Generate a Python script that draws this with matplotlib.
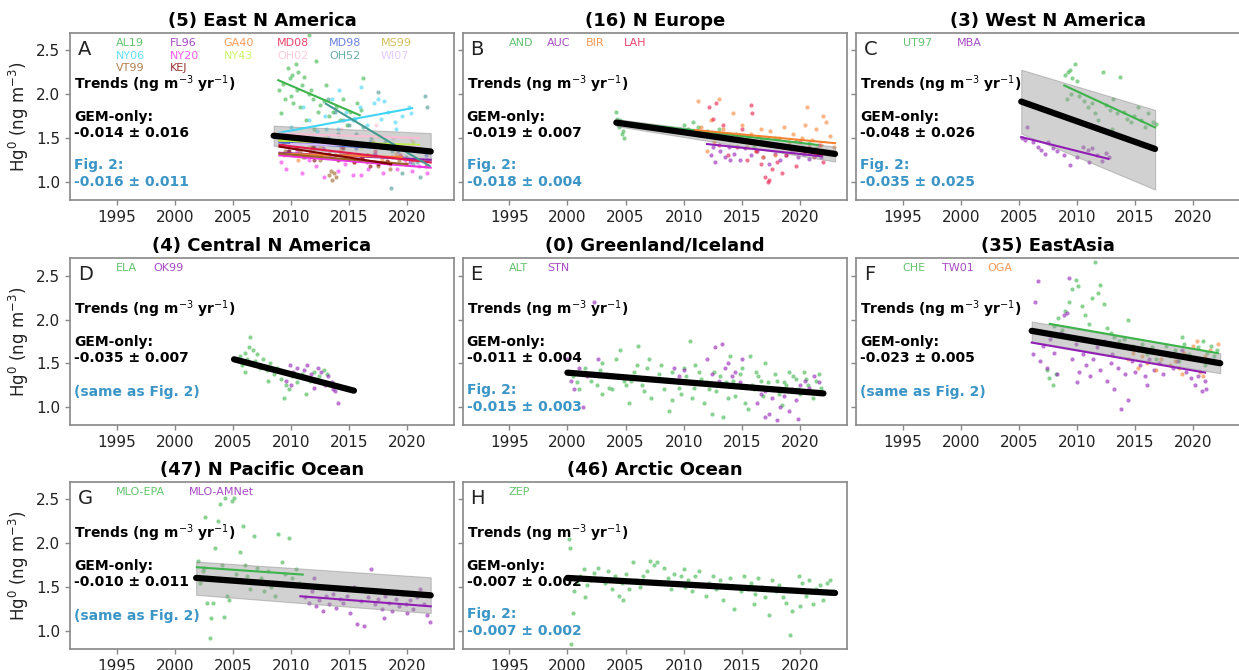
import matplotlib
matplotlib.use('Agg')
import matplotlib.pyplot as plt

# ---------------- colours ----------------
GREEN = '#3cb44b'; PURPLE = '#911eb4'; ORANGE = '#f58231'; RED = '#e6194b'
BLUE = '#4363d8'; GOLD = '#c8b034'; CYAN = '#42d4f4'; MAGENTA = '#f032e6'
LIME = '#bfef45'; PINK = '#fabed4'; TEAL = '#469990'; LAVENDER = '#dcbeff'
BROWN = '#9a6324'; MAROON = '#800000'
FIGBLUE = '#3b95c6'

# ---------------- (A) East N America ----------------
AL19_yr = [2009.0,2009.1,2009.3,2009.5,2009.7,2009.9,2010.1,2010.2,2010.4,2010.5,2010.6,2010.8,2010.9,2011.1,2011.3,2011.5,2011.7,2011.9,2012.1,2012.3,2012.5,2012.8,2013.0,2013.3,2013.6,2013.9,2014.2,2014.5,2014.8,2015.1,2015.4,2015.7,2016.0,2016.2,2012.0,2010.0,2011.5]
AL19_hg = [2.05,1.78,2.12,1.95,2.30,2.18,2.22,1.90,2.35,2.05,2.25,1.85,2.10,2.20,1.70,2.00,2.05,1.95,2.38,1.80,1.88,1.92,2.10,1.75,1.80,1.85,1.70,1.95,1.65,1.80,1.72,1.90,1.82,2.18,1.60,1.98,2.68]
NY06_yr = [2009.2,2010.0,2010.8,2011.5,2012.2,2012.9,2013.5,2014.1,2014.7,2015.3,2015.9,2016.5,2017.1,2017.7,2018.3,2018.9,2019.5,2020.1,2014.0,2016.0,2017.5,2019.0,2011.0,2013.0,2015.5,2018.0,2020.3]
NY06_hg = [1.55,1.62,1.50,1.70,1.58,1.75,1.95,2.05,1.80,1.70,1.85,1.65,1.90,1.72,1.80,1.68,1.75,1.85,1.60,2.08,1.95,1.60,1.85,1.60,1.72,1.92,1.78]
OH52_yr = [2013.2,2013.8,2014.5,2015.0,2015.6,2016.2,2016.9,2017.5,2018.1,2018.7,2019.3,2019.9,2020.5,2021.1,2021.7,2017.0,2019.5,2021.5,2014.0,2020.8,2018.6]
OH52_hg = [1.95,1.80,1.70,1.65,1.55,1.62,1.50,2.03,1.45,1.35,1.40,1.28,1.20,1.05,1.85,1.30,1.10,1.98,1.55,1.22,0.93]
VT99_yr = [2009.5,2010.3,2011.0,2011.8,2012.5,2013.3,2013.5,2013.7,2013.9,2013.4,2014.5,2015.5,2016.5,2017.5,2018.5,2019.3,2010.8,2012.0]
VT99_hg = [1.35,1.30,1.28,1.40,1.25,1.08,1.02,1.10,1.05,1.12,1.30,1.25,1.22,1.18,1.15,1.25,1.35,1.38]
KEJ_yr = [2009.2,2009.8,2010.5,2011.2,2011.9,2012.6,2013.3,2014.0,2014.7,2015.4,2016.1,2016.8,2017.5,2018.2,2010.0,2012.0,2014.5,2016.5]
KEJ_hg = [1.42,1.35,1.38,1.30,1.40,1.28,1.32,1.25,1.30,1.22,1.28,1.18,1.20,1.24,1.45,1.25,1.38,1.30]
NY20_yr = [2009.1,2009.6,2010.2,2010.9,2011.5,2012.1,2012.8,2013.4,2014.0,2014.6,2015.3,2015.9,2016.6,2017.2,2017.9,2018.5,2019.1,2019.8,2020.4,2021.0,2021.7,2010.5,2013.0,2016.0,2019.5]
NY20_hg = [1.22,1.15,1.30,1.10,1.25,1.18,1.05,1.28,1.12,1.20,1.08,1.25,1.15,1.30,1.10,1.20,1.15,1.25,1.12,1.18,1.10,1.35,1.32,1.08,1.28]
MD08_yr = [2009.3,2010.4,2011.6,2012.7,2013.8,2015.0,2016.1,2017.2,2018.3,2019.4,2020.5,2021.6,2014.3,2019.9]
MD08_hg = [1.42,1.38,1.35,1.45,1.30,1.32,1.28,1.35,1.22,1.30,1.25,1.18,1.40,1.20]
MD98_yr = [2009.6,2010.8,2012.0,2013.2,2014.4,2015.6,2016.8,2018.0,2019.2,2020.4,2021.6]
MD98_hg = [1.48,1.45,1.40,1.50,1.42,1.38,1.45,1.40,1.35,1.38,1.30]
GA40_yr = [2009.4,2010.6,2011.8,2013.0,2014.2,2015.4,2016.6,2017.8,2019.0]
GA40_hg = [1.30,1.25,1.38,1.28,1.35,1.22,1.30,1.26,1.32]
MS99_yr = [2009.5,2011.0,2012.5,2014.0,2015.5,2017.0,2018.5,2020.0]
MS99_hg = [1.45,1.50,1.40,1.48,1.42,1.45,1.40,1.38]
NY43_yr = [2010.0,2011.5,2013.0,2014.5,2016.0,2017.5,2019.0,2020.5]
NY43_hg = [1.48,1.42,1.50,1.45,1.40,1.52,1.38,1.45]
OH02_yr = [2009.8,2011.3,2012.8,2014.3,2015.8,2017.3,2018.8,2020.3]
OH02_hg = [1.55,1.45,1.50,1.60,1.42,1.65,1.50,1.48]
FL96_yr = [2009.7,2011.2,2012.7,2014.2,2015.7,2017.2,2018.7,2020.2,2021.7]
FL96_hg = [1.35,1.28,1.38,1.30,1.25,1.32,1.28,1.22,1.25]
WI07_yr = [2010.2,2012.2,2014.2,2016.2,2018.2,2020.2]
WI07_hg = [1.45,1.40,1.48,1.42,1.38,1.40]

# station trend lines: (start year, end year, start value, end value)
AL19_tr = (2008.9, 2015.9, 2.16, 1.76)
NY06_tr = (2009.0, 2020.4, 1.56, 1.84)
OH52_tr = (2013.0, 2021.9, 1.89, 1.18)
KEJ_tr = (2009.0, 2018.6, 1.40, 1.20)
NY20_tr = (2009.0, 2022.0, 1.30, 1.16)
MD08_tr = (2009.0, 2022.0, 1.42, 1.22)
MD98_tr = (2009.0, 2022.0, 1.45, 1.35)
GA40_tr = (2009.0, 2019.5, 1.32, 1.28)
MS99_tr = (2009.0, 2021.0, 1.47, 1.40)
NY43_tr = (2009.0, 2021.0, 1.47, 1.42)
OH02_tr = (2009.0, 2021.0, 1.55, 1.50)
FL96_tr = (2009.0, 2022.0, 1.33, 1.25)
WI07_tr = (2010.0, 2021.0, 1.43, 1.40)
VT99_tr = (2009.0, 2020.0, 1.32, 1.20)

# ---------------- (B) N Europe ----------------
AND_yr = [2004.2,2004.4,2004.5,2004.7,2004.9,2005.0,2004.3,2004.8,2010.0,2010.4,2010.8,2011.2,2011.6,2012.0,2012.5,2013.0,2013.5,2014.0,2014.5,2015.0,2015.5,2016.0,2016.6,2017.2,2017.8,2018.4,2019.0,2019.6,2020.2,2020.8,2021.4]
AND_hg = [1.80,1.62,1.70,1.55,1.50,1.66,1.72,1.58,1.65,1.60,1.68,1.62,1.55,1.58,1.52,1.60,1.50,1.48,1.55,1.46,1.52,1.40,1.48,1.44,1.50,1.42,1.38,1.46,1.40,1.44,1.38]
BIR_yr = [2011.2,2011.5,2011.9,2012.3,2012.6,2013.0,2013.4,2013.8,2014.2,2014.6,2015.0,2015.4,2015.8,2016.2,2016.6,2017.0,2017.4,2017.8,2018.2,2018.6,2019.0,2019.4,2019.8,2020.2,2020.6,2021.0,2021.4,2021.8,2022.2,2022.6,2022.9,2012.0,2020.4,2022.0,2016.8]
BIR_hg = [1.92,1.62,1.55,1.70,1.45,1.95,1.60,1.50,1.78,1.52,1.65,1.40,1.55,1.35,1.60,1.45,1.58,1.30,1.50,1.62,1.45,1.55,1.38,1.50,1.85,1.48,1.60,1.42,1.68,1.52,1.40,1.35,1.65,1.75,1.28]
LAH_yr = [2012.2,2012.5,2012.8,2013.1,2013.4,2013.8,2014.2,2014.6,2015.0,2015.4,2015.8,2016.2,2016.6,2017.0,2017.3,2017.6,2018.0,2018.4,2018.8,2019.2,2019.6,2020.0,2020.4,2020.8,2021.2,2021.6,2022.0,2015.9,2013.0,2017.2]
LAH_hg = [1.85,1.72,1.90,1.55,1.65,1.30,1.48,1.40,1.60,1.25,1.88,1.35,1.20,1.05,1.02,1.15,1.22,1.10,1.30,1.40,1.18,1.45,1.35,1.40,1.28,1.42,1.22,1.78,1.42,1.00]
AUC_yr = [2012.3,2012.7,2013.1,2013.5,2013.9,2014.3,2014.8,2015.3,2015.8,2016.3,2016.8,2017.3,2017.8,2018.3,2018.8,2019.3,2019.8,2020.3,2020.8,2021.3,2021.8,2012.5,2014.0]
AUC_hg = [1.30,1.22,1.35,1.28,1.40,1.32,1.25,1.38,1.30,1.35,1.28,1.20,1.32,1.25,1.30,1.35,1.28,1.32,1.26,1.30,1.28,1.40,1.25]
AND_tr = (2004.2, 2021.5, 1.69, 1.42)
AUC_tr = (2012.0, 2021.85, 1.43, 1.29)
BIR_tr = (2011.0, 2023.0, 1.59, 1.44)
LAH_tr = (2012.0, 2021.9, 1.52, 1.31)

# ---------------- (C) West N America ----------------
UT97_yr = [2009.0,2009.2,2009.4,2009.6,2009.8,2010.0,2009.1,2009.5,2010.2,2010.6,2010.9,2011.3,2011.5,2011.8,2012.2,2012.5,2012.8,2013.1,2013.4,2013.7,2014.0,2014.3,2014.6,2014.9,2015.2,2015.5,2015.8,2016.1,2016.5,2016.8,2011.0,2013.0]
UT97_hg = [2.22,2.25,2.28,2.18,2.35,2.15,1.95,2.00,1.98,1.92,1.85,1.90,1.78,1.70,2.25,1.88,1.82,1.95,1.78,2.20,1.80,1.72,1.68,1.75,1.85,1.70,1.62,1.78,1.68,1.66,1.65,1.60]
MBA_yr = [2005.3,2005.5,2005.7,2006.2,2006.6,2006.9,2007.2,2007.5,2007.9,2008.3,2008.9,2009.4,2010.0,2010.5,2010.9,2011.3,2011.7,2012.1,2012.5,2011.0,2012.7]
MBA_hg = [1.50,1.48,1.62,1.45,1.40,1.36,1.32,1.45,1.38,1.35,1.30,1.19,1.28,1.40,1.36,1.38,1.30,1.24,1.33,1.22,1.28]
UT97_tr = (2008.9, 2016.7, 2.10, 1.62)
MBA_tr = (2005.2, 2012.7, 1.51, 1.26)

# ---------------- (D) Central N America ----------------
ELA_yr = [2005.6,2005.8,2006.0,2006.2,2006.4,2006.5,2006.7,2006.9,2007.1,2007.3,2007.6,2007.9,2008.2,2008.5,2008.8,2009.1,2009.4,2009.6,2009.8,2010.1,2010.5,2010.9,2011.3,2011.6,2012.0,2012.4,2012.8,2013.1,2006.0,2008.0]
ELA_hg = [1.58,1.48,1.62,1.55,1.68,1.80,1.65,1.52,1.60,1.45,1.55,1.42,1.50,1.38,1.45,1.32,1.10,1.25,1.20,1.35,1.28,1.38,1.15,1.30,1.40,1.35,1.42,1.38,1.40,1.30]
OK99_yr = [2009.6,2009.9,2010.2,2010.5,2010.8,2011.1,2011.4,2011.7,2012.0,2012.3,2012.6,2012.9,2013.2,2013.5,2013.8,2014.0,2013.6,2010.0,2012.0]
OK99_hg = [1.30,1.48,1.40,1.45,1.35,1.42,1.48,1.38,1.30,1.45,1.40,1.25,1.35,1.28,1.18,1.05,1.20,1.25,1.22]

# ---------------- (E) Greenland/Iceland ----------------
ALT_yr = [2000.5,2001.0,2001.5,2002.0,2002.5,2003.0,2003.4,2003.8,2004.2,2004.5,
          2004.9,2005.3,2005.7,2006.1,2006.4,2006.8,2007.2,2007.6,2008.0,2008.3,
          2008.7,2009.0,2009.4,2009.8,2010.2,2010.5,2010.9,2011.3,2011.7,2012.0,
          2012.4,2012.8,2013.1,2013.4,2013.8,2014.2,2014.6,2015.0,2015.3,2015.7,
          2016.0,2016.4,2016.8,2017.2,2017.6,2018.0,2018.4,2018.8,2019.2,2019.6,
          2020.0,2020.3,2020.7,2021.1,2021.4,2021.8,2003.0,2007.0,2011.0,2014.0,
          2017.0,2019.0,2005.0,2009.0,2015.5,
          2000.8,2001.8,2002.8,2003.6,2004.0,2005.5,2006.0,2006.6,2007.9,2008.5,
          2009.6,2010.0,2010.7,2011.5,2012.2,2012.6,2013.6,2014.4,2014.8,2015.9,
          2016.2,2016.6,2017.4,2017.8,2018.2,2018.6,2019.4,2019.8,2020.5,2021.6]
ALT_hg = [1.35,1.20,1.45,1.30,1.25,1.50,1.38,1.20,1.55,1.65,
          1.30,1.05,1.40,1.70,1.25,1.45,1.10,1.32,1.48,1.20,
          0.95,1.40,1.28,1.15,1.35,1.75,1.22,1.40,1.05,1.28,
          0.92,1.18,1.35,0.88,1.10,1.30,1.25,1.45,1.05,1.58,
          1.20,1.35,1.12,1.28,1.20,1.30,1.02,1.25,1.18,1.32,
          1.15,1.40,1.25,1.10,1.30,1.22,1.15,1.55,1.48,1.58,
          1.50,1.40,1.25,1.08,0.98,
          1.28,1.38,1.42,1.22,1.35,1.30,1.48,1.18,1.38,1.30,
          1.22,1.45,1.10,1.32,1.20,1.40,1.28,1.12,1.38,1.25,
          1.40,1.30,1.22,1.38,1.15,1.28,1.35,1.20,1.32,1.38]
STN_yr = [2000.0,2000.3,2000.6,2001.0,2001.3,2001.7,2002.3,2002.6,2009.2,2009.6,
          2010.0,2012.0,2012.4,2012.7,2013.0,2013.3,2013.5,2013.8,2014.1,2014.4,
          2014.8,2015.0,2016.0,2016.3,2016.6,2017.0,2017.3,2017.6,2018.0,2018.3,
          2018.6,2019.0,2019.3,2019.6,2020.0,2020.4,2020.8,2021.2,2021.6,2017.0,2019.8]
STN_hg = [1.55,1.30,1.20,1.45,1.00,1.35,2.20,1.55,1.45,1.35,
          1.42,1.55,1.38,1.68,1.30,1.72,1.45,1.50,1.35,1.40,
          1.28,1.55,1.22,1.05,1.15,0.88,0.92,1.10,0.85,1.00,
          1.12,0.95,1.20,1.08,1.25,1.30,1.22,1.35,1.28,1.18,0.86]

# ---------------- (F) East Asia ----------------
CHE_yr = [2007.4,2007.6,2007.9,2008.2,2008.0,2008.4,2008.7,2009.0,2009.3,2009.6,
          2009.9,2010.1,2010.4,2010.7,2011.0,2011.3,2011.5,2011.8,2012.0,2012.3,
          2012.6,2012.9,2013.2,2013.6,2014.0,2014.4,2014.8,2015.2,2015.6,2016.0,
          2016.4,2016.8,2017.2,2017.6,2018.0,2018.4,2018.8,2019.2,2019.6,2020.0,
          2020.4,2020.8,2021.2,2021.5,2021.8,2022.0,2021.0,2019.0]
CHE_hg = [1.42,1.33,1.25,1.38,1.92,2.02,1.88,2.10,2.20,2.35,
          2.45,2.38,2.15,2.05,1.95,2.25,2.66,2.30,2.40,2.18,
          1.90,1.85,1.80,1.75,1.78,2.00,1.70,1.65,1.72,1.60,
          1.68,1.55,1.62,1.70,1.58,1.65,1.52,1.72,1.60,1.55,
          1.68,1.75,1.62,1.70,1.58,1.65,1.48,1.80]
TW01_yr = [2006.2,2006.4,2006.6,2006.8,2007.1,2007.4,2007.7,2008.0,2008.3,2008.6,
           2008.9,2009.1,2009.3,2009.6,2009.9,2010.2,2010.5,2010.8,2011.1,2011.4,
           2011.7,2012.0,2012.3,2012.6,2012.9,2013.2,2013.5,2013.8,2014.1,2014.4,
           2014.7,2015.0,2015.4,2015.8,2016.2,2016.6,2017.0,2017.4,2017.8,2018.2,
           2018.6,2019.0,2019.4,2019.8,2020.1,2020.4,2020.7,2021.0,2021.1,2013.0,
           2016.0,2010.0]
TW01_hg = [1.60,2.20,2.44,1.52,1.70,1.45,1.78,1.62,1.38,1.85,
           2.05,2.08,2.47,1.55,1.72,1.40,1.60,1.48,1.35,1.55,
           1.68,1.42,1.75,1.30,1.50,1.20,1.45,0.98,1.38,1.08,
           1.52,1.40,1.48,1.35,1.55,1.42,1.50,1.38,1.60,1.45,
           1.52,1.65,1.40,1.33,1.25,1.35,1.18,1.30,1.20,1.60,
           1.25,1.28]
OGA_yr = [2014.4,2014.8,2015.2,2015.6,2016.0,2016.4,2016.8,2017.2,2017.6,2018.0,
          2018.4,2018.8,2019.2,2019.6,2020.0,2020.3,2020.6,2021.0,2021.4,2021.8,
          2022.1,2020.8,2019.0]
OGA_hg = [1.55,1.62,1.45,1.58,1.50,1.65,1.42,1.55,1.60,1.48,
          1.52,1.45,1.62,1.55,1.70,1.75,1.40,1.58,1.65,1.50,
          1.72,1.35,1.38]
CHE_tr = (2007.65, 2022.1, 1.95, 1.615)
TW01_tr = (2006.1, 2021.0, 1.736, 1.393)

# ---------------- (G) N Pacific Ocean ----------------
MLOEPA_yr = [2002.0,2002.2,2002.4,2002.6,2002.8,2003.0,2003.1,2003.3,2003.5,2003.7,
             2003.9,2004.1,2004.3,2004.5,2004.7,2004.9,2005.1,2005.3,2005.6,2005.9,
             2006.2,2006.5,2006.8,2007.1,2007.4,2007.7,2008.0,2008.3,2008.6,2008.9,
             2009.2,2009.5,2009.8,2010.1,2010.4,2010.7,2002.5,2004.2,2003.3,2006.0]
MLOEPA_hg = [1.80,1.55,1.68,2.30,1.32,0.92,1.15,1.32,1.95,2.25,
             2.45,1.75,2.52,1.40,1.35,2.48,2.52,1.65,1.90,2.20,
             1.62,1.48,2.08,1.72,1.60,1.45,1.68,1.50,1.40,2.10,
             1.78,1.65,2.06,1.60,1.70,1.55,1.72,1.16,1.60,1.75]
MLOAMN_yr = [2011.2,2011.5,2011.8,2012.1,2012.4,2012.7,2013.0,2013.3,2013.6,2013.9,
             2014.2,2014.5,2014.8,2015.1,2015.4,2015.7,2016.0,2016.3,2016.6,2016.9,
             2017.2,2017.5,2017.8,2018.1,2018.4,2018.7,2019.0,2019.3,2019.6,2019.9,
             2020.2,2020.5,2020.8,2021.1,2021.4,2021.7,2021.9,2012.0,2018.0,2020.0]
MLOAMN_hg = [1.38,1.32,1.45,1.28,1.35,1.22,1.40,1.30,1.42,1.26,
             1.36,1.32,1.40,1.20,1.50,1.08,1.34,1.05,1.38,1.70,
             1.30,1.36,1.25,1.40,1.32,1.22,1.36,1.28,1.42,1.30,
             1.35,1.25,1.38,1.48,1.30,1.18,1.10,1.60,1.15,1.20]
MLOEPA_tr = (2001.9, 2011.0, 1.725, 1.641)
MLOAMN_tr = (2010.8, 2022.0, 1.393, 1.278)

# ---------------- (H) Arctic Ocean ----------------
ZEP_yr = [2000.1,2000.2,2000.3,2000.5,2000.6,2000.8,2001.1,2001.4,2001.7,2002.0,
          2002.3,2002.6,2002.9,2003.2,2003.5,2003.8,2004.1,2004.4,2004.7,2005.0,
          2005.3,2005.6,2005.9,2006.2,2006.5,2006.8,2007.1,2007.4,2007.7,2008.0,
          2008.3,2008.6,2008.9,2009.2,2009.5,2009.8,2010.1,2010.4,2010.7,2011.0,
          2011.3,2011.6,2011.9,2012.2,2012.5,2012.8,2013.1,2013.4,2013.7,2014.0,
          2014.3,2014.6,2014.9,2015.2,2015.5,2015.8,2016.1,2016.4,2016.7,2017.0,
          2017.3,2017.6,2017.9,2018.2,2018.5,2018.8,2019.1,2019.3,2019.6,2019.9,
          2020.2,2020.5,2020.8,2021.1,2021.4,2021.7,2022.0,2022.3,2022.6,2022.8,
          2001.5,2004.8,2010.0,2016.0,2020.0]
ZEP_hg = [2.05,1.95,0.85,1.20,1.45,1.55,1.62,1.70,1.52,1.58,
          1.66,1.72,1.60,1.55,1.68,1.48,1.62,1.40,1.55,1.65,
          1.48,1.78,1.58,1.50,1.62,1.68,1.80,1.75,1.78,1.55,
          1.72,1.60,1.48,1.65,1.55,1.62,1.50,1.58,1.45,1.62,
          1.68,1.52,1.40,1.55,1.62,1.48,1.58,1.35,1.52,1.60,
          1.25,1.50,1.45,1.62,1.48,1.55,1.42,1.60,1.50,1.38,
          1.18,1.58,1.45,1.52,1.38,1.32,0.95,1.22,1.45,1.62,
          1.55,1.40,1.58,1.30,1.48,1.52,1.35,1.55,1.58,1.45,
          1.38,1.35,1.70,1.30,1.28]

# ---------------- composite trends (black) and shaded ranges ----------------
# (start year, end year, start value, end value); band: (lo start, hi start, lo end, hi end)
A_comp = (2008.5, 2022.0, 1.525, 1.345); A_band = (1.41, 1.64, 1.22, 1.555)
B_comp = (2004.2, 2023.0, 1.675, 1.317); B_band = (1.635, 1.715, 1.23, 1.40)
C_comp = (2005.2, 2016.7, 1.916, 1.374); C_band = (1.55, 2.28, 0.91, 1.82)
D_comp = (2005.1, 2015.4, 1.545, 1.186); D_band = None
E_comp = (2000.0, 2022.0, 1.392, 1.155); E_band = None
F_comp = (2006.1, 2022.3, 1.870, 1.500); F_band = (1.748, 1.977, 1.385, 1.615)
G_comp = (2001.84, 2022.0, 1.603, 1.404); G_band = (1.41, 1.79, 1.20, 1.61)
H_comp = (2000.0, 2023.0, 1.603, 1.431); H_band = None

titles = ['(5) East N America', '(16) N Europe', '(3) West N America',
          '(4) Central N America', '(0) Greenland/Iceland', '(35) EastAsia',
          '(47) N Pacific Ocean', '(46) Arctic Ocean']
letters = ['A', 'B', 'C', 'D', 'E', 'F', 'G', 'H']
gem_only = ['-0.014 ± 0.016', '-0.019 ± 0.007', '-0.048 ± 0.026', '-0.035 ± 0.007',
            '-0.011 ± 0.004', '-0.023 ± 0.005', '-0.010 ± 0.011', '-0.007 ± 0.002']
fig2 = ['-0.016 ± 0.011', '-0.018 ± 0.004', '-0.035 ± 0.025', None,
        '-0.015 ± 0.003', None, None, '-0.007 ± 0.002']
xticks = [1995, 2000, 2005, 2010, 2015, 2020]
yticks = [1.0, 1.5, 2.0, 2.5]

# stations per panel: (label, colour, years, values, trend)
stations = [
    [('AL19', GREEN, AL19_yr, AL19_hg, AL19_tr), ('FL96', PURPLE, FL96_yr, FL96_hg, FL96_tr),
     ('GA40', ORANGE, GA40_yr, GA40_hg, GA40_tr), ('MD08', RED, MD08_yr, MD08_hg, MD08_tr),
     ('MD98', BLUE, MD98_yr, MD98_hg, MD98_tr), ('MS99', GOLD, MS99_yr, MS99_hg, MS99_tr),
     ('NY06', CYAN, NY06_yr, NY06_hg, NY06_tr), ('NY20', MAGENTA, NY20_yr, NY20_hg, NY20_tr),
     ('NY43', LIME, NY43_yr, NY43_hg, NY43_tr), ('OH02', PINK, OH02_yr, OH02_hg, OH02_tr),
     ('OH52', TEAL, OH52_yr, OH52_hg, OH52_tr), ('WI07', LAVENDER, WI07_yr, WI07_hg, WI07_tr),
     ('VT99', BROWN, VT99_yr, VT99_hg, VT99_tr), ('KEJ', MAROON, KEJ_yr, KEJ_hg, KEJ_tr)],
    [('AND', GREEN, AND_yr, AND_hg, AND_tr), ('AUC', PURPLE, AUC_yr, AUC_hg, AUC_tr),
     ('BIR', ORANGE, BIR_yr, BIR_hg, BIR_tr), ('LAH', RED, LAH_yr, LAH_hg, LAH_tr)],
    [('UT97', GREEN, UT97_yr, UT97_hg, UT97_tr), ('MBA', PURPLE, MBA_yr, MBA_hg, MBA_tr)],
    [('ELA', GREEN, ELA_yr, ELA_hg, None), ('OK99', PURPLE, OK99_yr, OK99_hg, None)],
    [('ALT', GREEN, ALT_yr, ALT_hg, None), ('STN', PURPLE, STN_yr, STN_hg, None)],
    [('CHE', GREEN, CHE_yr, CHE_hg, CHE_tr), ('TW01', PURPLE, TW01_yr, TW01_hg, TW01_tr),
     ('OGA', ORANGE, OGA_yr, OGA_hg, None)],
    [('MLO-EPA', GREEN, MLOEPA_yr, MLOEPA_hg, MLOEPA_tr),
     ('MLO-AMNet', PURPLE, MLOAMN_yr, MLOAMN_hg, MLOAMN_tr)],
    [('ZEP', GREEN, ZEP_yr, ZEP_hg, None)],
]
comps = [A_comp, B_comp, C_comp, D_comp, E_comp, F_comp, G_comp, H_comp]
bands = [A_band, B_band, C_band, D_band, E_band, F_band, G_band, H_band]

# ---------------- layout ----------------
W, H = 1239, 670
fig = plt.figure(figsize=(W / 100, H / 100), dpi=100)
col_left = [70, 462.7, 856]
row_top = [33, 258.3, 482]
ax_w, ax_h = 384, 167

# label x-positions (axes fraction) for station names
label_x = [
    [0.12, 0.26, 0.40, 0.54, 0.675, 0.81],
    [0.12, 0.22, 0.32, 0.42],
    [0.122, 0.263],
    [0.12, 0.218],
    [0.12, 0.22],
    [0.122, 0.224, 0.341],
    [0.12, 0.31],
    [0.12],
]
label_rows = [0.94, 0.864, 0.79]

for i in range(8):
    r, c = divmod(i, 3)
    left = col_left[c] / W
    bottom = (H - row_top[r] - ax_h) / H
    ax = fig.add_axes([left, bottom, ax_w / W, ax_h / H])

    for (name, colr, yrs, vals, tr) in stations[i]:
        ax.scatter(yrs, vals, s=9, color=colr, alpha=0.6, linewidths=0, zorder=1)
    band = bands[i]
    x0, x1, y0, y1 = comps[i]
    if band is not None:
        ax.fill_between([x0, x1], [band[0], band[2]], [band[1], band[3]],
                        color='#999999', alpha=0.45, edgecolor='#888888',
                        linewidth=0.8, zorder=2)
    for (name, colr, yrs, vals, tr) in stations[i]:
        if tr is not None:
            ax.plot([tr[0], tr[1]], [tr[2], tr[3]], color=colr, lw=1.5, zorder=3)
    ax.plot([x0, x1], [y0, y1], color='black', lw=4.5, solid_capstyle='round', zorder=4)

    nper = len(label_x[i])
    for k, (name, colr, yrs, vals, tr) in enumerate(stations[i]):
        rr, cc = divmod(k, nper)
        ax.text(label_x[i][cc], label_rows[rr], name, color=colr, alpha=0.8,
                fontsize=8, transform=ax.transAxes, ha='left', va='center', zorder=6)

    ax.text(0.02, 0.904, letters[i], fontsize=14, transform=ax.transAxes,
            ha='left', va='center', color='#222222', zorder=6)
    ax.text(0.01, 0.695, r'Trends (ng m$^{-3}$ yr$^{-1}$)', fontsize=10, fontweight='bold',
            transform=ax.transAxes, ha='left', va='center', zorder=6)
    ax.text(0.01, 0.499, 'GEM-only:', fontsize=10, fontweight='bold',
            transform=ax.transAxes, ha='left', va='center', zorder=6)
    ax.text(0.01, 0.403, gem_only[i], fontsize=10, fontweight='bold',
            transform=ax.transAxes, ha='left', va='center', zorder=6)
    if fig2[i] is None:
        ax.text(0.01, 0.198, '(same as Fig. 2)', fontsize=10, fontweight='bold',
                color=FIGBLUE, transform=ax.transAxes, ha='left', va='center', zorder=6)
    else:
        ax.text(0.01, 0.21, 'Fig. 2:', fontsize=10, fontweight='bold', color=FIGBLUE,
                transform=ax.transAxes, ha='left', va='center', zorder=6)
        ax.text(0.01, 0.11, fig2[i], fontsize=10, fontweight='bold', color=FIGBLUE,
                transform=ax.transAxes, ha='left', va='center', zorder=6)

    ax.set_title(titles[i], fontsize=13, fontweight='bold', pad=5)
    ax.set_xlim(1991, 2024)
    ax.set_ylim(0.79, 2.70)
    ax.set_xticks(xticks)
    ax.set_yticks(yticks)
    ax.tick_params(direction='out', length=3.5, width=1, color='#888888',
                   labelsize=11, labelcolor='#222222')
    for sp in ax.spines.values():
        sp.set_color('#888888')
        sp.set_linewidth(1.2)
    if c == 0:
        ax.set_ylabel('Hg$^0$ (ng m$^{-3}$)', fontsize=12, color='#222222')
    else:
        ax.tick_params(labelleft=False)

fig.savefig('out.png', dpi=100)
